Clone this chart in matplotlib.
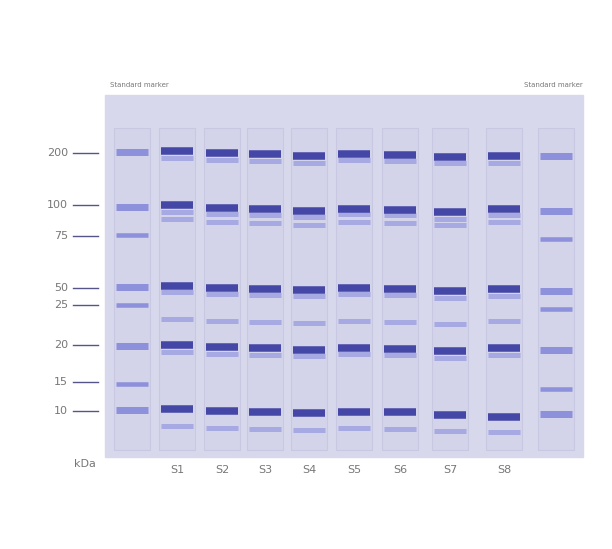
import matplotlib
matplotlib.use("Agg")
import matplotlib.pyplot as plt
from matplotlib.patches import Rectangle

# kDa ladder and label positions (pixel rows of the reference)
kda_labels = ["200", "100", "75", "50", "25", "20", "15", "10"]
kda_y = [153, 205, 236, 288, 305, 345, 382, 411]

lane_x = [132, 177, 222, 265, 309, 354, 400, 450, 504, 556]
sample_names = ["S1", "S2", "S3", "S4", "S5", "S6", "S7", "S8"]

marker_left = [152, 207, 235, 287, 305, 346, 384, 410]
marker_right = [156, 211, 239, 291, 309, 350, 389, 414]
marker_thick = [1, 1, 0, 1, 0, 1, 0, 1]

# per sample: dark bands, light bands
dark_bands = [
    [151, 205, 286, 345, 409],
    [153, 208, 288, 347, 411],
    [154, 209, 289, 348, 412],
    [156, 211, 290, 350, 413],
    [154, 209, 288, 348, 412],
    [155, 210, 289, 349, 412],
    [157, 212, 291, 351, 415],
    [156, 209, 289, 348, 417],
]
light_bands = [
    [158, 212, 219, 292, 319, 352, 426],
    [160, 214, 222, 294, 321, 354, 428],
    [161, 215, 223, 295, 322, 355, 429],
    [163, 217, 225, 296, 323, 356, 430],
    [160, 214, 222, 294, 321, 354, 428],
    [161, 215, 223, 295, 322, 355, 429],
    [163, 219, 225, 298, 324, 358, 431],
    [163, 215, 222, 296, 321, 355, 432],
]

DARK = "#4447a6"
MED = "#8d90db"
LIGHT = "#a7a9e3"
BG = "#d8d8ec"
LANE = "#d3d3ea"

fig = plt.figure(figsize=(6.12, 5.49), dpi=100)
ax = fig.add_axes([0, 0, 1, 1])
ax.set_xlim(0, 612)
ax.set_ylim(549, 0)
ax.axis("off")

ax.add_patch(Rectangle((105, 95), 478, 362, color=BG, zorder=0))
for x in lane_x:
    ax.add_patch(Rectangle((x - 18, 128), 36, 322, facecolor=LANE,
                           edgecolor="#c8c8e2", lw=0.8, zorder=1))

def band(x, y, color, h, half=16):
    ax.plot([x - half, x + half], [y, y], color=color, lw=h * 0.72,
            solid_capstyle="butt", zorder=3)

for i, (yl, yr) in enumerate(zip(marker_left, marker_right)):
    h = 7 if marker_thick[i] else 4.5
    band(lane_x[0], yl, MED, h)
    band(lane_x[-1], yr, MED, h)

for j in range(8):
    x = lane_x[j + 1]
    for y in light_bands[j]:
        band(x, y, LIGHT, 5)
    for y in dark_bands[j]:
        band(x, y, DARK, 7.5)
    ax.text(x, 470, sample_names[j], ha="center", va="center",
            fontsize=8, color="#777777")

for lab, y in zip(kda_labels, kda_y):
    ax.plot([73, 98], [y, y], color="#55558a", lw=1)
    ax.text(68, y, lab, ha="right", va="center", fontsize=8, color="#777777")
ax.text(96, 464, "kDa", ha="right", va="center", fontsize=8, color="#777777")

ax.text(110, 85, "Standard marker", ha="left", va="center", fontsize=5, color="#777777")
ax.text(583, 85, "Standard marker", ha="right", va="center", fontsize=5, color="#777777")

fig.savefig("out.png", dpi=100)
